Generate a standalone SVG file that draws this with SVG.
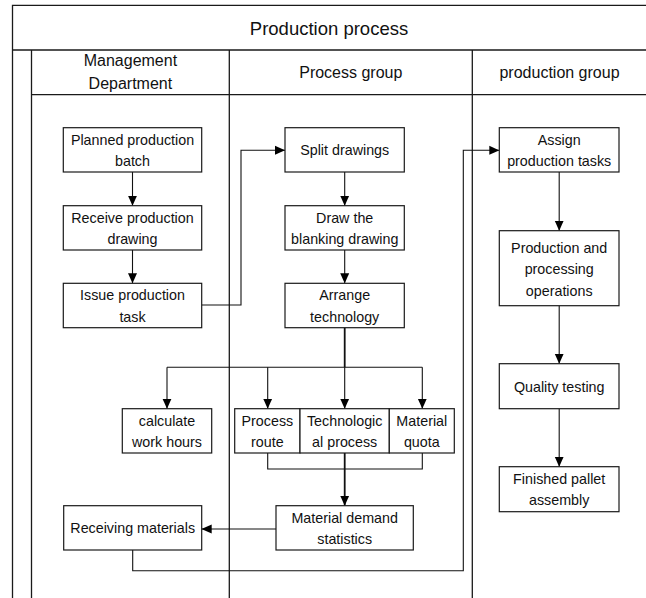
<svg xmlns="http://www.w3.org/2000/svg" width="646" height="598" viewBox="0 0 646 598">
<defs>
<marker id="ah" viewBox="0 0 10 10" refX="10" refY="5" markerWidth="10" markerHeight="10" markerUnits="userSpaceOnUse" orient="auto">
<path d="M0,0.5 L10,5 L0,9.5 Z" fill="#000"/>
</marker>
<style>
.frame{stroke:#1a1a1a;stroke-width:1.3;fill:none}
.box{fill:#fff;stroke:#1a1a1a;stroke-width:1.2}
.t{font-family:"Liberation Sans",Arial,sans-serif;font-size:14.3px;fill:#111;text-anchor:middle}
.h{font-family:"Liberation Sans",Arial,sans-serif;font-size:16px;fill:#111;text-anchor:middle}
.title{font-family:"Liberation Sans",Arial,sans-serif;font-size:18.5px;fill:#111;text-anchor:middle}
.c{fill:none;stroke:#111;stroke-width:1.1}
.ca{fill:none;stroke:#111;stroke-width:1.1;marker-end:url(#ah)}
</style>
</defs>
<rect width="646" height="598" fill="#fff"/>
<g id="frame">
<path class="frame" d="M12.5,598 V5.3 H646 M12.5,50 H646 M31.5,50 V598 M31.5,94.7 H646 M229.3,50 V598 M472.3,50 V598"/>
<text class="title" x="329" y="35">Production process</text>
<text class="h" x="130.4" y="66">Management</text>
<text class="h" x="130.4" y="89">Department</text>
<text class="h" x="350.8" y="78">Process group</text>
<text class="h" x="559.5" y="78">production group</text>
</g>
<g id="connectors">
<path class="ca" d="M132.5,172 V205.7"/>
<path class="ca" d="M132.5,250 V283.3"/>
<path class="ca" d="M201.7,305 H241 V150.3 H285"/>
<path class="ca" d="M344.7,172 V205.7"/>
<path class="ca" d="M344.7,250 V283.3"/>
<path class="c" d="M344.7,327.7 V367.3" style="stroke-width:1.8"/>
<path class="c" d="M167,367.3 H422.3"/>
<path class="ca" d="M167,367.3 V408.7"/>
<path class="ca" d="M267.7,367.3 V408.7"/>
<path class="ca" d="M344.7,367.3 V408.7"/>
<path class="ca" d="M422.3,367.3 V408.7"/>
<path class="c" d="M267.7,453 V469 H422.3 V453"/>
<path class="ca" d="M344.7,453 V505.7" style="stroke-width:1.8"/>
<path class="ca" d="M276,529 H201.7"/>
<path class="ca" d="M132.7,550 V570.7 H463.3 V150.3 H499.3"/>
<path class="ca" d="M559.2,172 V230.7"/>
<path class="ca" d="M559.2,305.7 V363.7"/>
<path class="ca" d="M559.2,408.7 V466.7"/>
</g>
<g id="n-planned"><rect class="box" x="63.3" y="127.7" width="138.4" height="44.3"/><text class="t" x="132.5" y="144.6">Planned production</text><text class="t" x="132.5" y="166.1">batch</text></g>
<g id="n-receive"><rect class="box" x="63.3" y="205.7" width="138.4" height="44.3"/><text class="t" x="132.5" y="222.6">Receive production</text><text class="t" x="132.5" y="244.1">drawing</text></g>
<g id="n-issue"><rect class="box" x="63.3" y="283.3" width="138.4" height="44.4"/><text class="t" x="132.5" y="300.3">Issue production</text><text class="t" x="132.5" y="321.8">task</text></g>
<g id="n-split"><rect class="box" x="285" y="127.7" width="119.3" height="44.3"/><text class="t" x="344.7" y="155.3">Split drawings</text></g>
<g id="n-draw"><rect class="box" x="285" y="205.7" width="119.3" height="44.3"/><text class="t" x="344.7" y="222.6">Draw the</text><text class="t" x="344.7" y="244.1">blanking drawing</text></g>
<g id="n-arrange"><rect class="box" x="285" y="283.3" width="119.3" height="44.4"/><text class="t" x="344.7" y="300.3">Arrange</text><text class="t" x="344.7" y="321.8">technology</text></g>
<g id="n-calc"><rect class="box" x="122.3" y="408.7" width="89.4" height="44.3"/><text class="t" x="167" y="425.6">calculate</text><text class="t" x="167" y="447.1">work hours</text></g>
<g id="n-route"><rect class="box" x="234.7" y="408.7" width="65.3" height="44.3"/><text class="t" x="267.4" y="425.6">Process</text><text class="t" x="267.4" y="447.1">route</text></g>
<g id="n-tech"><rect class="box" x="300" y="408.7" width="89.3" height="44.3"/><text class="t" x="344.7" y="425.6">Technologic</text><text class="t" x="344.7" y="447.1">al process</text></g>
<g id="n-quota"><rect class="box" x="389.3" y="408.7" width="65" height="44.3"/><text class="t" x="421.8" y="425.6">Material</text><text class="t" x="421.8" y="447.1">quota</text></g>
<g id="n-mds"><rect class="box" x="276" y="505.7" width="137.3" height="44.3"/><text class="t" x="344.7" y="522.6">Material demand</text><text class="t" x="344.7" y="544.1">statistics</text></g>
<g id="n-recv"><rect class="box" x="63.7" y="505.7" width="138" height="44.3"/><text class="t" x="132.7" y="533.3">Receiving materials</text></g>
<g id="n-assign"><rect class="box" x="499.3" y="127.7" width="119.7" height="44.3"/><text class="t" x="559.2" y="144.6">Assign</text><text class="t" x="559.2" y="166.1">production tasks</text></g>
<g id="n-prod"><rect class="box" x="499.3" y="230.7" width="119.7" height="75"/><text class="t" x="559.2" y="252.5">Production and</text><text class="t" x="559.2" y="274">processing</text><text class="t" x="559.2" y="295.5">operations</text></g>
<g id="n-quality"><rect class="box" x="499.3" y="363.7" width="119.7" height="45"/><text class="t" x="559.2" y="391.7">Quality testing</text></g>
<g id="n-finished"><rect class="box" x="499.3" y="466.7" width="119.7" height="45"/><text class="t" x="559.2" y="483.9">Finished pallet</text><text class="t" x="559.2" y="505.4">assembly</text></g>
</svg>
